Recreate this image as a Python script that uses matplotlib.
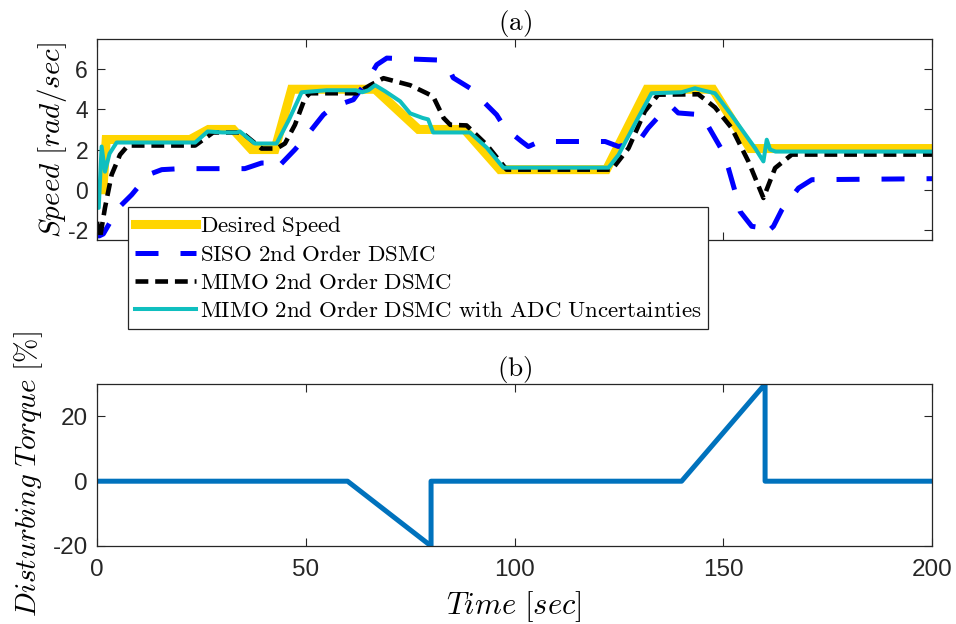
import matplotlib
matplotlib.use("Agg")
import matplotlib.pyplot as plt

plt.rcParams["mathtext.fontset"] = "cm"
plt.rcParams["font.family"] = ["Liberation Sans", "DejaVu Sans"]

# -- Data ----------------------------------------------------------------------

t_des = [0, 1.4, 2.2, 22.3, 26.7, 32.6, 37, 42.6, 46.6, 66.6, 77, 88, 96.5,
         122, 131.7, 147.5, 156.4, 200]
v_des = [0, 0, 2.5, 2.5, 3, 3, 2, 2, 5, 5, 3, 3, 1, 1, 5, 5, 2.05, 2.05]

t_siso = [0, 0.5, 1.5, 5.1, 8.3, 12.3, 15.5, 20, 35.4, 39.4, 41.5, 43, 47.4,
          49.8, 54.2, 56.6, 61.4, 64.6, 67, 69.4, 82.2, 84.6, 85.3, 89.3, 91.7,
          95.7, 97.7, 101.7, 103.3, 106, 121.7, 124.9, 129.7, 132, 136, 137.6,
          139.2, 144.8, 146.4, 149.6, 151.2, 152.8, 154, 156.8, 159.6, 160, 162,
          164, 168, 171.2, 200]
v_siso = [-2.0, -2.3, -2.2, -0.91, -0.25, 0.75, 1.0, 1.05, 1.05, 1.33, 1.33,
          1.05, 2.0, 2.58, 3.73, 4.14, 4.48, 5.39, 6.22, 6.55, 6.45, 5.89, 5.57,
          5.06, 4.56, 3.73, 3.07, 2.4, 2.15, 2.4, 2.4, 2.15, 2.4, 3.07, 3.98,
          4.14, 3.82, 3.73, 3.15, 2.0, 1.08, -0.08, -1.08, -1.82, -1.9, -2.2,
          -1.82, -1.0, 0.08, 0.5, 0.55]

t_mimo = [0, 0.7, 1.9, 3.5, 5.5, 7.4, 23.5, 27.8, 34.7, 39.4, 43, 45, 47.4,
          49.8, 51, 62.2, 65.4, 68.6, 75, 79, 80.5, 83, 84.6, 88.5, 93.3, 98.1,
          123.3, 127.3, 131.2, 134.4, 144, 148, 152, 156, 159.6, 162.4, 166.4,
          200]
v_mimo = [-1.6, -2.4, -0.9, 0.75, 1.74, 2.2, 2.2, 2.85, 2.85, 2.05, 2.05, 2.3,
          3.23, 4.56, 4.8, 4.8, 5.2, 5.55, 5.2, 4.8, 4.64, 3.57, 3.23, 3.2, 2.24,
          1.0, 1.0, 2.07, 3.9, 4.73, 4.75, 4.1, 3.07, 1.41, -0.41, 1.08, 1.75,
          1.75]

t_adc = [0, 0.4, 1.1, 1.9, 3, 4.7, 23.5, 26.5, 30, 33.5, 34.2, 37.8, 43, 46,
         49, 55, 62, 63.5, 65, 66.6, 69, 72.6, 75, 78, 79.3, 80.5, 89.3, 93.3,
         97.3, 122.5, 124.9, 129.6, 132.8, 140, 143.2, 145, 148, 152, 157.6,
         159.6, 160.4, 161.2, 162.5, 200]
v_adc = [-0.9, -0.9, 2.15, 0.9, 1.8, 2.35, 2.35, 2.9, 2.85, 2.85, 2.9, 2.3, 2.3,
         3.5, 4.85, 4.95, 4.95, 4.85, 4.95, 5.2, 4.9, 4.4, 3.8, 3.57, 3.5, 2.85,
         2.85, 2.1, 1.1, 1.1, 1.74, 3.58, 4.8, 4.85, 5.05, 4.95, 4.8, 3.7, 2.07,
         1.41, 2.49, 2.0, 1.9, 1.9]

t_dist = [0, 60, 80, 80, 140, 160, 160, 200]
v_dist = [0, 0, -20, 0, 0, 30, 0, 0]

labels = [r"$\mathrm{Desired\ Speed}$",
          r"$\mathrm{SISO\ 2nd\ Order\ DSMC}$",
          r"$\mathrm{MIMO\ 2nd\ Order\ DSMC}$",
          r"$\mathrm{MIMO\ 2nd\ Order\ DSMC\ with\ ADC\ Uncertainties}$"]

# -- Figure --------------------------------------------------------------------

fig = plt.figure(figsize=(9.56, 6.24), dpi=100)
ax1 = fig.add_axes([0.1015, 0.6154, 0.8735, 0.3221])
ax2 = fig.add_axes([0.1015, 0.125, 0.8735, 0.2596])

ax1.plot(t_des, v_des, color="#FFD500", lw=6.5, label=labels[0],
         solid_joinstyle="miter")
ax1.plot(t_siso, v_siso, color="blue", lw=3.6, dashes=(4.6, 4.4),
         label=labels[1])
ax1.plot(t_mimo, v_mimo, color="black", lw=3.3, dashes=(2.8, 1.5),
         label=labels[2])
ax1.plot(t_adc, v_adc, color="#0FBFBF", lw=2.9, label=labels[3])

ax2.plot(t_dist, v_dist, color="#0072BD", lw=3.6)

for ax in (ax1, ax2):
    ax.set_xlim(0, 200)
    ax.set_xticks([0, 50, 100, 150, 200])
    ax.tick_params(direction="in", length=6, width=0.8, colors="#262626",
                   top=True, right=True, labelsize=16.5, pad=6.5)
    for s in ax.spines.values():
        s.set_color("#262626")
        s.set_linewidth(0.9)

ax1.set_ylim(-2.5, 7.5)
ax1.set_yticks([-2, 0, 2, 4, 6])
ax1.set_yticklabels(["-2", "0", "2", "4", "6"])
ax1.set_xticklabels([])
ax1.set_title(r"$\mathrm{(a)}$", fontsize=19.5, pad=5)

ax2.set_ylim(-20, 30)
ax2.set_yticks([-20, 0, 20])
ax2.set_yticklabels(["-20", "0", "20"])
ax2.set_xticklabels(["0", "50", "100", "150", "200"])
ax2.tick_params(labelsize=17.5)
ax2.tick_params(axis="x", pad=9)
ax2.set_title(r"$\mathrm{(b)}$", fontsize=19.5, pad=6)

fig.text(514 / 956, 1 - 607 / 624, r"$Time\ [sec]$", fontsize=22,
         ha="center", va="center")
fig.text(52 / 956, 1 - 140 / 624, r"$Speed\ [rad/sec]$", fontsize=21,
         rotation=90, ha="center", va="center")
fig.text(29 / 956, 1 - 474 / 624, r"$Disturbing\ Torque\ [\%]$", fontsize=21,
         rotation=90, ha="center", va="center")

leg = ax1.legend(loc="upper left", bbox_to_anchor=(0.037, 0.164), fontsize=16.5,
                 frameon=True, fancybox=False, framealpha=1, edgecolor="#262626",
                 handlelength=2.65, handletextpad=0.18, labelspacing=0.22,
                 borderpad=0.3, borderaxespad=0)
leg.get_frame().set_linewidth(0.9)

fig.savefig("out.png", dpi=100)
